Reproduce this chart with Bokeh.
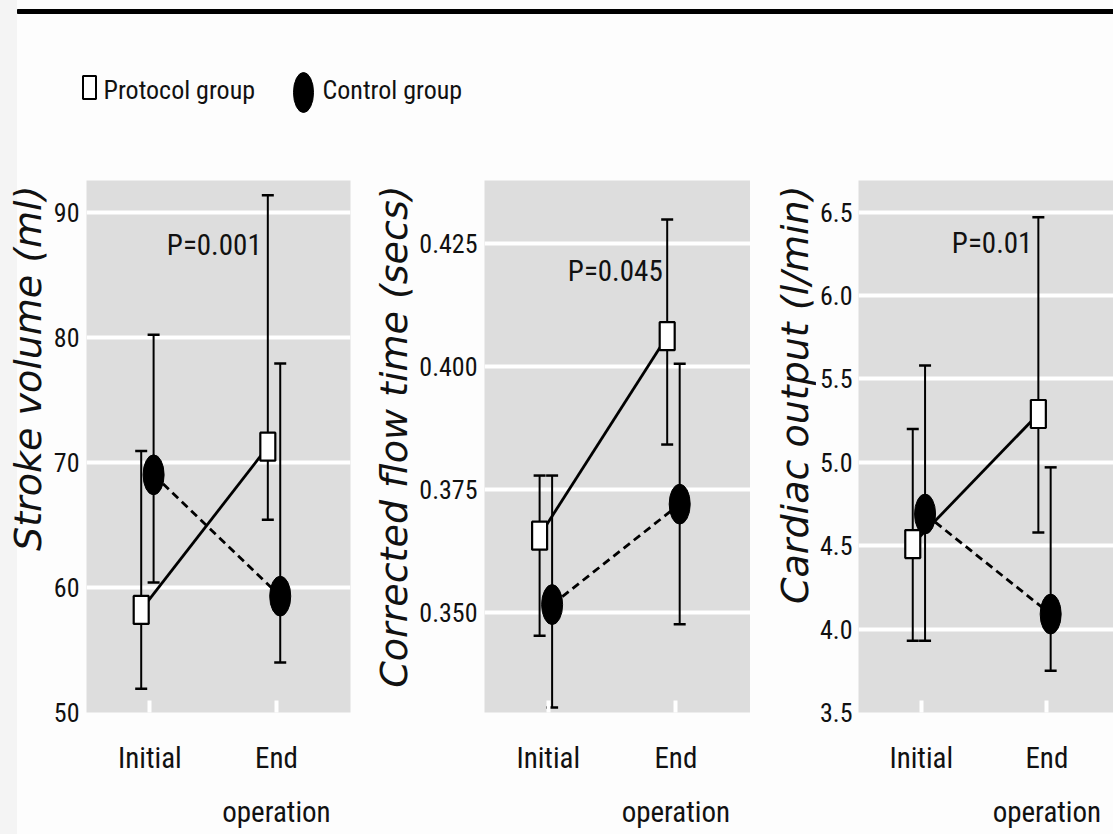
import math
from bokeh.plotting import figure
from bokeh.layouts import column, row
from bokeh.embed import file_html
from bokeh.resources import INLINE
from bokeh.models import (ColumnDataSource, Range1d, FixedTicker, Whisker, TeeHead,
                          Label, PrintfTickFormatter)
from bokeh.core.properties import value

# ---------------- data ----------------
phases = ["Initial", "End\noperation"]
legend_labels = ["Protocol group", "Control group"]
p_values = ["P=0.001", "P=0.045", "P=0.01"]
y_titles = ["Stroke volume (ml)", "Corrected flow time (secs)", "Cardiac output (l/min)"]

sv_prot = [58.2, 71.25]
sv_prot_lo = [51.9, 65.4]
sv_prot_hi = [70.9, 91.35]
sv_ctrl = [69.0, 59.3]
sv_ctrl_lo = [60.4, 54.0]
sv_ctrl_hi = [80.2, 77.9]

cft_prot = [0.3656, 0.4061]
cft_prot_lo = [0.3453, 0.3841]
cft_prot_hi = [0.3778, 0.4298]
cft_ctrl = [0.3516, 0.3720]
cft_ctrl_lo = [0.3307, 0.3476]
cft_ctrl_hi = [0.3778, 0.4005]

co_prot = [4.51, 5.29]
co_prot_lo = [3.93, 4.58]
co_prot_hi = [5.20, 6.47]
co_ctrl = [4.69, 4.09]
co_ctrl_lo = [3.93, 3.75]
co_ctrl_hi = [5.58, 4.97]

sv_ticks = [50, 60, 70, 80, 90]
cft_ticks = [0.350, 0.375, 0.400, 0.425]
co_ticks = [3.5, 4.0, 4.5, 5.0, 5.5, 6.0, 6.5]

# ---------------- style ----------------
COND = "Roboto Condensed"
TITLE_FONT = "DejaVu Sans"
INK = "#111111"
PANEL_BG = "#dddddd"
OFF_P = -0.068
OFF_C = 0.03
FRAME_H = 532
TOP = 30
BOTTOM = 122
H = TOP + FRAME_H + BOTTOM
PX_PER_UNIT = 267 / 2.085


def title_fig(w, text, cx):
    t = figure(width=w, height=H, x_range=Range1d(0, w), y_range=Range1d(0, FRAME_H),
               output_backend="svg", toolbar_location=None, min_border=0,
               min_border_top=TOP, min_border_bottom=BOTTOM,
               x_axis_location=None, y_axis_location=None,
               background_fill_color=None, border_fill_color=None, outline_line_color=None)
    t.grid.visible = False
    t.text(x=[cx], y=[FRAME_H - 5], text=[text], angle=math.pi / 2,
           text_align="right", text_baseline="middle",
           text_font=value(TITLE_FONT), text_font_style="italic",
           text_font_size="38px", text_color=INK)
    return t


def panel(width, left_border, right_border, frame_w, yr, ticks, grid_ticks, fmt, standoff,
          prot, prot_lo, prot_hi, ctrl, ctrl_lo, ctrl_hi, ptext, p_x, p_y):
    xr = Range1d(-0.5, -0.5 + frame_w / PX_PER_UNIT)
    p = figure(width=width, height=H, x_range=xr, y_range=Range1d(*yr),
               output_backend="svg", toolbar_location=None,
               min_border_left=left_border, min_border_right=right_border,
               min_border_top=TOP, min_border_bottom=BOTTOM,
               background_fill_color=PANEL_BG, border_fill_color=None,
               outline_line_color=None)
    idx = list(range(len(phases)))
    p.xaxis.ticker = FixedTicker(ticks=idx)
    p.xaxis.major_label_overrides = {i: phases[i] for i in idx}
    p.xaxis.axis_line_color = None
    p.xaxis.major_tick_in = 12
    p.xaxis.major_tick_out = 0
    p.xaxis.major_tick_line_color = "white"
    p.xaxis.major_tick_line_width = 4
    p.xaxis.minor_tick_line_color = None
    p.xaxis.major_label_standoff = 28
    p.xaxis.major_label_text_font = COND
    p.xaxis.major_label_text_font_size = "29px"
    p.xaxis.major_label_text_color = INK
    p.xaxis.major_label_text_line_height = 1.6

    p.yaxis.ticker = FixedTicker(ticks=ticks)
    if fmt:
        p.yaxis.formatter = PrintfTickFormatter(format=fmt)
    p.yaxis.axis_line_color = None
    p.yaxis.major_tick_line_color = None
    p.yaxis.minor_tick_line_color = None
    p.yaxis.major_tick_in = 0
    p.yaxis.major_tick_out = 0
    p.yaxis.major_label_standoff = standoff
    p.yaxis.major_label_text_font = COND
    p.yaxis.major_label_text_font_size = "26px"
    p.yaxis.major_label_text_color = INK
    p.yaxis.major_label_text_baseline = "alphabetic"

    p.xgrid.grid_line_color = None
    p.ygrid.ticker = FixedTicker(ticks=grid_ticks)
    p.ygrid.grid_line_color = "white"
    p.ygrid.grid_line_width = 4

    xp = [i + OFF_P for i in idx]
    xc = [i + OFF_C for i in idx]
    sp = ColumnDataSource(dict(x=xp, y=prot, lo=prot_lo, hi=prot_hi))
    sc = ColumnDataSource(dict(x=xc, y=ctrl, lo=ctrl_lo, hi=ctrl_hi))

    for s in (sp, sc):
        p.add_layout(Whisker(base="x", upper="hi", lower="lo", source=s, dimension="height",
                             line_color="black", line_width=2, level="underlay",
                             upper_head=TeeHead(size=12, line_width=2.5, line_color="black"),
                             lower_head=TeeHead(size=12, line_width=2.5, line_color="black")))

    p.line("x", "y", source=sp, line_color="black", line_width=2.8)
    p.line("x", "y", source=sc, line_color="black", line_width=2.8, line_dash="8 5")
    p.ellipse("x", "y", source=sc, width=21, height=40, width_units="screen",
              height_units="screen", fill_color="black", line_color="black")
    p.rect("x", "y", source=sp, width=15, height=28, width_units="screen",
           height_units="screen", fill_color="white", line_color="black", line_width=2.2)

    p.add_layout(Label(x=p_x, y=p_y, text=ptext, text_align="center", text_baseline="middle",
                       text_font=COND, text_font_size="29px", text_color=INK))
    return p


# widths: t1 50 | p1 310 | t2 56 | p2 334 | t3 66 | p3 297  = 1113
t1 = title_fig(50, y_titles[0], 27)
p1 = panel(310, 33, 10, 267, (50, 92.53), sv_ticks, sv_ticks[1:], None, 7,
           sv_prot, sv_prot_lo, sv_prot_hi, sv_ctrl, sv_ctrl_lo, sv_ctrl_hi,
           p_values[0], 0.509, 87.35)
t2 = title_fig(56, y_titles[1], 33)
p2 = panel(334, 67, 0, 267, (0.3297, 0.4377), cft_ticks, cft_ticks, "%.3f", 7,
           cft_prot, cft_prot_lo, cft_prot_hi, cft_ctrl, cft_ctrl_lo, cft_ctrl_hi,
           p_values[1], 0.525, 0.4194)
t3 = title_fig(66, y_titles[2], 44)
p3 = panel(297, 37, 0, 260, (3.5, 6.69), co_ticks, co_ticks[1:], "%.1f", 6,
           co_prot, co_prot_lo, co_prot_hi, co_ctrl, co_ctrl_lo, co_ctrl_hi,
           p_values[2], 0.564, 6.318)

# ---------------- header (rule + legend) ----------------
hp = figure(width=1113, height=150, x_range=Range1d(0, 1113), y_range=Range1d(150, 0),
            output_backend="svg", toolbar_location=None, min_border=0,
            x_axis_location=None, y_axis_location=None,
            background_fill_color=None, border_fill_color=None, outline_line_color=None)
hp.grid.visible = False
hp.quad(left=17, right=1113, top=9, bottom=13, color="black")
hp.rect(x=89, y=87, width=13, height=23, fill_color="white", line_color="black", line_width=2)
hp.ellipse(x=303, y=92, width=20, height=40, fill_color="black", line_color="black")
hp.text(x=[103, 322], y=[89, 89], text=legend_labels, text_baseline="middle",
        text_font=value(COND), text_font_size="26px", text_color=INK)

layout = column(hp, row(t1, p1, t2, p2, t3, p3), width=1113,
                styles={"background": "linear-gradient(to right, #f4f4f4 0px, #f4f4f4 17px, #fdfdfd 17px)"})
open("out.html", "w").write(file_html(layout, INLINE))
